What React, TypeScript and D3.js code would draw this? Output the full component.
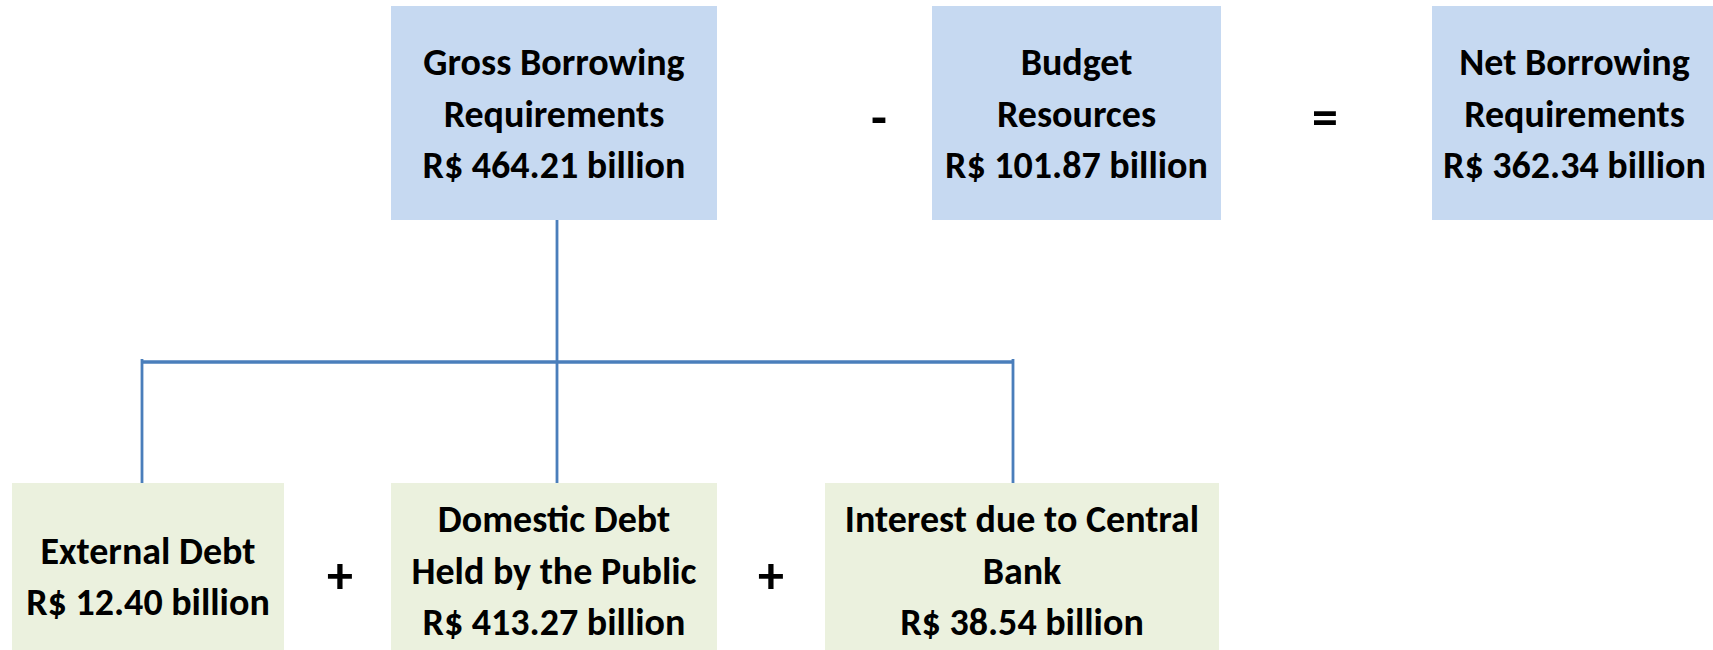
import React from "react";
import * as d3 from "d3";

// ---- data ----
const topLabels: string[][] = [
  ["Gross Borrowing", "Requirements"],
  ["Budget", "Resources"],
  ["Net Borrowing", "Requirements"],
];
const topValues: number[] = [464.21, 101.87, 362.34];
const bottomLabels: string[][] = [
  ["External Debt"],
  ["Domestic Debt", "Held by the Public"],
  ["Interest due to Central", "Bank"],
];
const bottomValues: number[] = [12.4, 413.27, 38.54];
const topOperators: string[] = ["-", "="];
const bottomOperators: string[] = ["+", "+"];

// ---- layout ----
const W = 1713;
const H = 650;
const topBoxes = [
  { x: 391, w: 326 },
  { x: 932, w: 289 },
  { x: 1432, w: 285 },
];
const topY = 6;
const topH = 214;
const bottomBoxes = [
  { x: 12, w: 272, cy: 577 },
  { x: 391, w: 326, cy: 571 },
  { x: 825, w: 394, cy: 571 },
];
const bottomY = 483;
const bottomH = 167;
const topOpPos = [879, 1325];
const bottomOpPos = [340, 771];
const lineX = [142, 557, 1013];
const barY = 362;
const FONT = "Carlito, Calibri, Lato, 'Open Sans', sans-serif";
const FS = 38;
const LH = 51.7;
const CAP = 25;
const BLUE_FILL = "#C6D9F1";
const GREEN_FILL = "#EBF1DE";
const LINE = "#4A7EBB";

const fmt = d3.format(".2f");

function BoxText({ cx, cy, lines }: { cx: number; cy: number; lines: string[] }) {
  const n = lines.length;
  return (
    <text
      textAnchor="middle"
      fontFamily={FONT}
      fontWeight={700}
      fontSize={FS}
      fill="#000"
    >
      {lines.map((l, i) => (
        <tspan key={i} x={cx} y={cy + (i - (n - 1) / 2) * LH + CAP / 2}>
          {l}
        </tspan>
      ))}
    </text>
  );
}

export default function App() {
  return (
    <svg
      width={W}
      height={H}
      style={{ position: "absolute", left: 0, top: 0, background: "#fff" }}
    >
      {/* connectors */}
      <g stroke={LINE} fill="none">
        <line x1={lineX[1]} x2={lineX[1]} y1={topY + topH} y2={bottomY} strokeWidth={2.8} />
        <line x1={lineX[0]} x2={lineX[2]} y1={barY} y2={barY} strokeWidth={3.5} />
        <line x1={lineX[0]} x2={lineX[0]} y1={barY - 3} y2={bottomY} strokeWidth={2.8} />
        <line x1={lineX[2]} x2={lineX[2]} y1={barY - 3} y2={bottomY} strokeWidth={2.8} />
      </g>
      {/* top boxes */}
      {topBoxes.map((b, i) => (
        <g key={"t" + i}>
          <rect x={b.x} y={topY} width={b.w} height={topH} fill={BLUE_FILL} />
          <BoxText
            cx={b.x + b.w / 2}
            cy={topY + topH / 2 + 1}
            lines={[...topLabels[i], `R$ ${fmt(topValues[i])} billion`]}
          />
        </g>
      ))}
      {/* bottom boxes */}
      {bottomBoxes.map((b, i) => (
        <g key={"b" + i}>
          <rect x={b.x} y={bottomY} width={b.w} height={bottomH} fill={GREEN_FILL} />
          <BoxText
            cx={b.x + b.w / 2}
            cy={b.cy}
            lines={[...bottomLabels[i], `R$ ${fmt(bottomValues[i])} billion`]}
          />
        </g>
      ))}
      {/* operators */}
      {topOperators.map((op, i) => (
        <text
          key={"to" + i}
          x={topOpPos[i]}
          y={118 + 17}
          textAnchor="middle"
          fontFamily={FONT}
          fontWeight={900}
          fontSize={52}
        >
          {op}
        </text>
      ))}
      {bottomOperators.map((op, i) => (
        <text
          key={"bo" + i}
          x={bottomOpPos[i]}
          y={576 + 17}
          textAnchor="middle"
          fontFamily={FONT}
          fontWeight={900}
          fontSize={52}
        >
          {op}
        </text>
      ))}
    </svg>
  );
}
